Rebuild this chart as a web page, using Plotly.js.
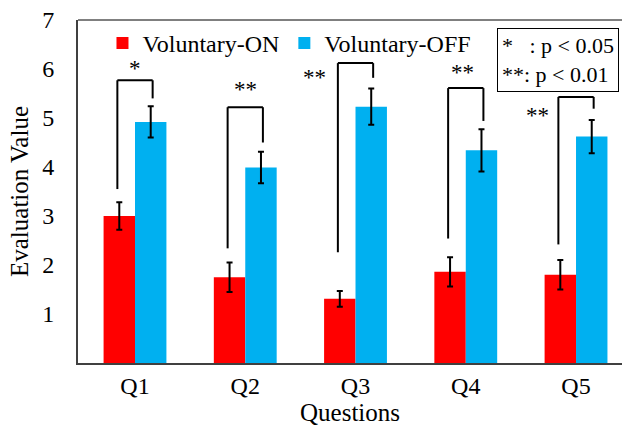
<!DOCTYPE html>
<html>
<head>
<meta charset="utf-8">
<script src="https://cdn.plot.ly/plotly-3.0.1.min.js"></script>
<style>html,body{margin:0;padding:0;background:#fff;}#chart{width:622px;height:429px;}</style>
</head>
<body>
<div id="chart"></div>
<script>
const categories = ['Q1', 'Q2', 'Q3', 'Q4', 'Q5'];
const onValues = [3.00, 1.75, 1.31, 1.86, 1.80];
const onErrors = [0.28, 0.30, 0.16, 0.30, 0.30];
const offValues = [4.92, 3.99, 5.23, 4.34, 4.62];
const offErrors = [0.32, 0.32, 0.37, 0.43, 0.34];
const yTicks = [1, 2, 3, 4, 5, 6, 7];
// significance brackets (values on the evaluation scale)
const bracketTop = [5.77, 5.22, 6.12, 5.61, 5.43];
const bracketLeftBottom = [3.55, 2.34, 2.26, 2.54, 2.42];
const bracketRightBottom = [5.40, 4.50, 5.82, 4.94, 5.19];
const sigLabels = ['*', '**', '**', '**', '**'];
const sigHeights = [6.03, 5.60, 5.85, 5.95, 5.07];
const sigShift = [0, 0, -0.37, -0.03, -0.35];

const serif = '"Liberation Serif", "Times New Roman", serif';

const traces = [
  {
    type: 'bar', name: 'Voluntary-ON', x: categories, y: onValues,
    marker: {color: '#FF0000'},
    error_y: {type: 'data', array: onErrors, visible: true, color: '#000000', thickness: 2, width: 3}
  },
  {
    type: 'bar', name: 'Voluntary-OFF', x: categories, y: offValues,
    marker: {color: '#00B0F0'},
    error_y: {type: 'data', array: offErrors, visible: true, color: '#000000', thickness: 2, width: 3}
  }
];

const shapes = [
  {type: 'line', xref: 'paper', yref: 'paper', x0: 0, x1: 1, y0: 1, y1: 1, line: {color: '#000000', width: 1}}
];
const annotations = [];
const dx = 0.16;
categories.forEach((c, i) => {
  const l = i - dx, r = i + dx;
  const ln = {color: '#000000', width: 2};
  shapes.push({type: 'line', xref: 'x', yref: 'y', x0: l, x1: l, y0: bracketLeftBottom[i], y1: bracketTop[i], line: ln});
  shapes.push({type: 'line', xref: 'x', yref: 'y', x0: l, x1: r, y0: bracketTop[i], y1: bracketTop[i], line: ln});
  shapes.push({type: 'line', xref: 'x', yref: 'y', x0: r, x1: r, y0: bracketTop[i], y1: bracketRightBottom[i], line: ln});
  annotations.push({
    xref: 'x', yref: 'y', x: i + sigShift[i], y: sigHeights[i], text: sigLabels[i],
    showarrow: false, xanchor: 'center', yanchor: 'middle', yshift: -1,
    font: {family: serif, size: 23, color: '#000000'}
  });
});
annotations.push({
  xref: 'paper', yref: 'paper', x: 0.771, y: 0.978, xanchor: 'left', yanchor: 'top',
  text: '*&nbsp;&nbsp;&nbsp;: p &lt; 0.05<br>**: p &lt; 0.01', align: 'left', showarrow: false,
  bordercolor: '#000000', borderwidth: 1, borderpad: 4,
  font: {family: serif, size: 22, color: '#000000'}
});

const layout = {
  width: 622, height: 429,
  margin: {l: 78, r: 0, t: 19.5, b: 66},
  paper_bgcolor: '#ffffff', plot_bgcolor: '#ffffff',
  barmode: 'group', bargap: 0.43, bargroupgap: 0,
  font: {family: serif, size: 24, color: '#000000'},
  showlegend: true,
  legend: {orientation: 'h', x: 0.045, y: 0.932, xanchor: 'left', yanchor: 'middle',
           font: {family: serif, size: 24, color: '#000000'}, bgcolor: 'rgba(0,0,0,0)'},
  xaxis: {
    type: 'category', range: [-0.517, 4.417], showgrid: false, zeroline: false,
    showline: true, linecolor: '#404040', linewidth: 2, ticks: '',
    tickfont: {family: serif, size: 24, color: '#000000'},
    title: {text: 'Questions', font: {family: serif, size: 25, color: '#000000'}, standoff: 0}
  },
  yaxis: {
    range: [0, 7], tickvals: yTicks, ticktext: yTicks.map(String), showgrid: false, zeroline: false,
    showline: true, linecolor: '#404040', linewidth: 2, ticks: '', ticklabelstandoff: 17,
    tickfont: {family: serif, size: 24, color: '#000000'},
    title: {text: 'Evaluation Value', font: {family: serif, size: 25, color: '#000000'}, standoff: 6}
  },
  shapes: shapes,
  annotations: annotations
};

Plotly.newPlot('chart', traces, layout, {displayModeBar: false, staticPlot: true});
</script>
</body>
</html>
